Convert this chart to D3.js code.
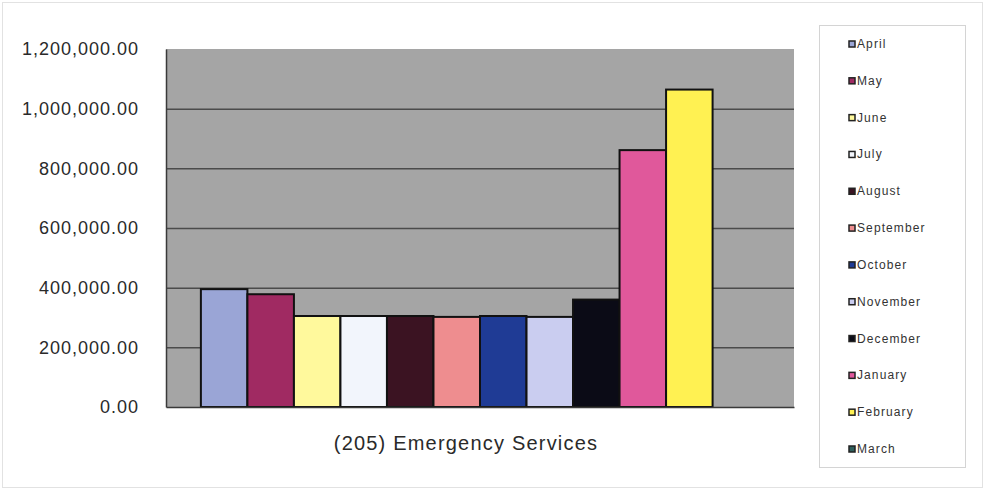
<!doctype html>
<html lang="en-US">
<head>
  <meta charset="utf-8">
  <title>(205) Emergency Services</title>
  <script type="text/javascript" src="https://d3js.org/d3.v7.min.js"></script>
  <style>
    body { margin: 0; background: #fff; }
    text { font-family: "Liberation Sans", Arial, sans-serif; }
  </style>
</head>
<body>
  <svg id="chart" width="985" height="490"></svg>

  <script type="text/javascript">
    // data (March has no bar)
    var months = ["April", "May", "June", "July", "August", "September",
                  "October", "November", "December", "January", "February", "March"];
    var values = [395000, 378000, 305000, 305000, 305000, 302000,
                  305000, 302000, 360000, 861000, 1064000, 0];
    var yTicks = [0, 200000, 400000, 600000, 800000, 1000000, 1200000];
    var category = "(205) Emergency Services";

    var colors = ["#9aa5d6", "#a02a62", "#fff99c", "#f2f5fc", "#3b1322", "#ee8d8f",
                  "#1f3b95", "#cacdf0", "#0b0b16", "#e0589b", "#fff152", "#2f5f5c"];

    var svg = d3.select("#chart");
    var plot = {left: 166, top: 49, right: 794, bottom: 407};

    // faint outer frame
    svg.append("rect")
      .attr("x", 2.5).attr("y", 2.5)
      .attr("width", 980).attr("height", 485)
      .attr("fill", "#fff").attr("stroke", "#e2e2e2");

    var x = d3.scaleBand()
      .domain(months)
      .range([plot.left, plot.right])
      .paddingInner(0)
      .paddingOuter(0.75);

    var y = d3.scaleLinear()
      .domain([0, 1200000])
      .range([plot.bottom, plot.top]);

    var color = d3.scaleOrdinal().domain(months).range(colors);

    // plot background
    svg.append("rect")
      .attr("x", plot.left).attr("y", plot.top)
      .attr("width", plot.right - plot.left)
      .attr("height", plot.bottom - plot.top)
      .attr("fill", "#a5a5a5");

    // gridlines
    svg.append("g")
      .attr("transform", "translate(" + plot.left + ",0)")
      .call(d3.axisLeft(y).tickValues(yTicks.slice(1, -1)).tickSize(-(plot.right - plot.left)).tickFormat(""))
      .call(function(g) { g.select(".domain").remove(); })
      .selectAll("line")
      .attr("stroke", "#4b4b4b")
      .attr("stroke-width", 1.5);

    // bars
    svg.selectAll(".bar")
      .data(values)
      .enter().append("rect")
      .attr("class", "bar")
      .attr("x", function(d, i) { return x(months[i]); })
      .attr("y", function(d) { return y(d); })
      .attr("width", x.bandwidth())
      .attr("height", function(d) { return y(0) - y(d); })
      .attr("fill", function(d, i) { return color(months[i]); })
      .attr("stroke", function(d) { return d > 0 ? "#111" : "none"; })
      .attr("stroke-width", 2);

    // y axis
    var yAxis = svg.append("g")
      .attr("transform", "translate(" + plot.left + ",0)")
      .call(d3.axisLeft(y).tickValues(yTicks).tickFormat(d3.format(",.2f")).tickSize(0).tickPadding(27));
    yAxis.select(".domain").attr("stroke", "#3a3a3a").attr("stroke-width", 1.5);
    yAxis.selectAll("text")
      .attr("fill", "#2a2a2a")
      .style("font-size", "18px")
      .style("letter-spacing", "1px");

    // x axis line
    svg.append("g")
      .attr("transform", "translate(0," + plot.bottom + ")")
      .call(d3.axisBottom(d3.scaleLinear().range([plot.left, plot.right])).ticks(0).tickSize(0))
      .select(".domain").attr("stroke", "#3a3a3a").attr("stroke-width", 1.5);

    // category label
    svg.append("text")
      .attr("x", 466).attr("y", 450)
      .attr("text-anchor", "middle")
      .attr("fill", "#2a2a2a")
      .style("font-size", "20px")
      .style("letter-spacing", "1.2px")
      .text(category);

    // legend
    svg.append("rect")
      .attr("x", 819.5).attr("y", 25.5)
      .attr("width", 146).attr("height", 442)
      .attr("fill", "#fff").attr("stroke", "#d4d4d4");

    var ly = d3.scalePoint().domain(months).range([44, 449]);

    var item = svg.selectAll(".legend")
      .data(months)
      .enter().append("g")
      .attr("class", "legend")
      .attr("transform", function(d) { return "translate(849," + ly(d) + ")"; });

    item.append("rect")
      .attr("x", 0).attr("y", -3)
      .attr("width", 6).attr("height", 6)
      .attr("fill", function(d) { return color(d); })
      .attr("stroke", "#222").attr("stroke-width", 1.5);

    item.append("text")
      .attr("x", 8).attr("y", 4)
      .attr("fill", "#333")
      .style("font-size", "12px")
      .style("letter-spacing", "1.1px")
      .text(function(d) { return d; });
  </script>
</body>
</html>
